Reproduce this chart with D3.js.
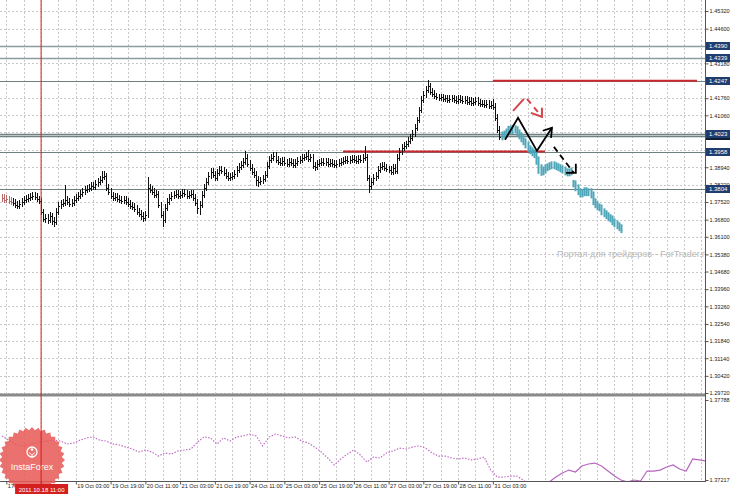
<!DOCTYPE html>
<html>
<head>
<meta charset="utf-8">
<script src="https://cdn.jsdelivr.net/npm/d3@7"></script>
<style>
body { margin: 0; background: #fff; }
svg { display: block; font-family: "Liberation Sans", Arial, sans-serif; }
</style>
</head>
<body>
<svg id="chart" width="730" height="494"></svg>
<script>
"use strict";

// H1 bars, index 0 = 17 Oct 15:00; open of a bar = close of the one before
var closes = [
    1.3769,1.3761,1.3765,1.3757,1.3753,1.3749,1.3741,1.3737,1.3745,1.3753,
    1.3761,1.3765,1.3769,1.3773,1.3777,1.3773,1.3765,1.3757,1.3712,1.3683,
    1.3688,1.3679,1.3696,1.3675,1.3671,1.3712,1.3737,1.3745,1.3749,1.3761,
    1.3753,1.3745,1.3749,1.3761,1.3769,1.3777,1.3785,1.3794,1.3802,1.3806,
    1.3810,1.3818,1.3814,1.3826,1.3834,1.3843,1.3855,1.3859,1.3810,1.3794,
    1.3777,1.3769,1.3773,1.3765,1.3761,1.3757,1.3761,1.3753,1.3745,1.3737,
    1.3732,1.3724,1.3712,1.3704,1.3696,1.3688,1.3700,1.3810,1.3802,1.3794,
    1.3781,1.3785,1.3741,1.3700,1.3679,1.3728,1.3753,1.3769,1.3777,1.3781,
    1.3785,1.3777,1.3781,1.3790,1.3785,1.3777,1.3781,1.3785,1.3769,1.3749,
    1.3728,1.3741,1.3781,1.3810,1.3834,1.3859,1.3875,1.3863,1.3851,1.3871,
    1.3883,1.3879,1.3871,1.3859,1.3851,1.3855,1.3859,1.3867,1.3883,1.3896,
    1.3904,1.3916,1.3932,1.3908,1.3892,1.3875,1.3863,1.3843,1.3834,1.3839,
    1.3847,1.3863,1.3900,1.3924,1.3932,1.3941,1.3924,1.3916,1.3912,1.3920,
    1.3912,1.3908,1.3916,1.3912,1.3904,1.3912,1.3920,1.3924,1.3932,1.3936,
    1.3941,1.3928,1.3936,1.3900,1.3896,1.3908,1.3912,1.3916,1.3912,1.3916,
    1.3908,1.3912,1.3908,1.3904,1.3908,1.3912,1.3916,1.3920,1.3924,1.3920,
    1.3924,1.3928,1.3924,1.3920,1.3928,1.3924,1.3932,1.3936,1.3851,1.3818,
    1.3834,1.3851,1.3859,1.3883,1.3896,1.3900,1.3892,1.3887,1.3883,1.3875,
    1.3892,1.3879,1.3932,1.3957,1.3973,1.3981,1.3989,1.4002,1.4014,1.4030,
    1.4055,1.4087,1.4128,1.4169,1.4189,1.4210,1.4226,1.4202,1.4194,1.4185,
    1.4181,1.4177,1.4181,1.4173,1.4177,1.4169,1.4173,1.4177,1.4169,1.4165,
    1.4173,1.4169,1.4165,1.4169,1.4161,1.4165,1.4157,1.4161,1.4165,1.4157,
    1.4153,1.4153,1.4149,1.4153,1.4145,1.4149,1.4141,1.4096,1.4047,1.4018,
    1.4026,1.4030,1.4038,1.4047,1.4043,1.4051,1.4047,1.4034,1.4022,1.4010,
    1.3998,1.3985,1.3969,1.3961,1.3953,1.3945,1.3924,1.3892,1.3875,1.3883,
    1.3892,1.3896,1.3900,1.3904,1.3900,1.3896,1.3892,1.3887,1.3883,1.3875,
    1.3871,1.3875,1.3879,1.3826,1.3810,1.3794,1.3785,1.3790,1.3798,1.3790,
    1.3794,1.3781,1.3753,1.3741,1.3732,1.3728,1.3712,1.3704,1.3696,1.3688,
    1.3683,1.3671,1.3663,1.3655,1.3647,1.3639
];
var highs = [
    1.3785,1.3783,1.3779,1.3777,1.3771,1.3767,1.3763,1.3755,1.3759,1.3767,
    1.3775,1.3779,1.3785,1.3789,1.3793,1.3791,1.3787,1.3777,1.3769,1.3724,
    1.3704,1.3702,1.3710,1.3708,1.3689,1.3726,1.3751,1.3759,1.3765,1.3822,
    1.3775,1.3767,1.3763,1.3775,1.3783,1.3791,1.3799,1.3808,1.3816,1.3822,
    1.3826,1.3832,1.3834,1.3840,1.3850,1.3857,1.3879,1.3879,1.3871,1.3824,
    1.3808,1.3791,1.3787,1.3787,1.3779,1.3775,1.3775,1.3775,1.3767,1.3759,
    1.3751,1.3746,1.3738,1.3726,1.3718,1.3710,1.3714,1.3855,1.3826,1.3816,
    1.3808,1.3799,1.3797,1.3753,1.3714,1.3742,1.3767,1.3783,1.3791,1.3795,
    1.3799,1.3799,1.3795,1.3804,1.3804,1.3799,1.3795,1.3799,1.3799,1.3783,
    1.3763,1.3755,1.3795,1.3824,1.3848,1.3873,1.3891,1.3889,1.3877,1.3885,
    1.3897,1.3897,1.3893,1.3885,1.3873,1.3869,1.3873,1.3881,1.3897,1.3910,
    1.3918,1.3930,1.3961,1.3946,1.3922,1.3906,1.3889,1.3877,1.3857,1.3853,
    1.3861,1.3877,1.3914,1.3938,1.3948,1.3955,1.3955,1.3938,1.3930,1.3934,
    1.3934,1.3926,1.3930,1.3930,1.3926,1.3926,1.3934,1.3938,1.3946,1.3950,
    1.3955,1.3965,1.3950,1.3948,1.3914,1.3922,1.3926,1.3930,1.3930,1.3930,
    1.3930,1.3926,1.3926,1.3922,1.3922,1.3926,1.3930,1.3934,1.3938,1.3938,
    1.3938,1.3942,1.3942,1.3938,1.3942,1.3942,1.3946,1.3981,1.3948,1.3863,
    1.3848,1.3865,1.3873,1.3897,1.3910,1.3914,1.3914,1.3906,1.3901,1.3897,
    1.3906,1.3906,1.3946,1.3971,1.3987,1.3995,1.4003,1.4016,1.4028,1.4044,
    1.4069,1.4101,1.4142,1.4183,1.4205,1.4226,1.4250,1.4240,1.4216,1.4208,
    1.4199,1.4195,1.4195,1.4195,1.4191,1.4191,1.4187,1.4191,1.4191,1.4183,
    1.4187,1.4187,1.4183,1.4183,1.4183,1.4179,1.4179,1.4175,1.4179,1.4179,
    1.4171,1.4167,1.4167,1.4167,1.4167,1.4163,1.4173,1.4155,1.4110,1.4061,
    1.4040,1.4044,1.4052,1.4063,1.4063,1.4067,1.4065,1.4061,1.4048,1.4036,
    1.4024,1.4012,1.3999,1.3983,1.3975,1.3967,1.3959,1.3938,1.3906,1.3897,
    1.3906,1.3910,1.3914,1.3918,1.3918,1.3914,1.3910,1.3906,1.3901,1.3897,
    1.3889,1.3889,1.3893,1.3842,1.3840,1.3824,1.3808,1.3804,1.3812,1.3812,
    1.3808,1.3808,1.3795,1.3767,1.3755,1.3746,1.3742,1.3726,1.3718,1.3710,
    1.3702,1.3697,1.3685,1.3677,1.3669,1.3661
];
var lows = [
    1.3751,1.3747,1.3747,1.3743,1.3739,1.3735,1.3727,1.3723,1.3723,1.3733,
    1.3741,1.3747,1.3753,1.3757,1.3761,1.3759,1.3751,1.3743,1.3698,1.3669,
    1.3667,1.3663,1.3665,1.3659,1.3651,1.3659,1.3698,1.3723,1.3731,1.3735,
    1.3739,1.3731,1.3731,1.3735,1.3747,1.3755,1.3763,1.3771,1.3780,1.3788,
    1.3792,1.3796,1.3800,1.3800,1.3812,1.3820,1.3829,1.3841,1.3796,1.3780,
    1.3763,1.3755,1.3755,1.3751,1.3747,1.3743,1.3743,1.3739,1.3731,1.3723,
    1.3718,1.3710,1.3698,1.3690,1.3680,1.3672,1.3674,1.3686,1.3788,1.3780,
    1.3767,1.3767,1.3727,1.3686,1.3651,1.3665,1.3714,1.3739,1.3755,1.3763,
    1.3767,1.3763,1.3763,1.3767,1.3771,1.3763,1.3763,1.3767,1.3755,1.3735,
    1.3704,1.3700,1.3727,1.3767,1.3796,1.3820,1.3845,1.3849,1.3837,1.3837,
    1.3857,1.3865,1.3857,1.3845,1.3837,1.3837,1.3841,1.3845,1.3853,1.3869,
    1.3882,1.3890,1.3902,1.3894,1.3878,1.3861,1.3849,1.3818,1.3814,1.3820,
    1.3825,1.3833,1.3849,1.3886,1.3910,1.3918,1.3910,1.3902,1.3898,1.3898,
    1.3898,1.3894,1.3894,1.3898,1.3890,1.3890,1.3898,1.3906,1.3910,1.3918,
    1.3922,1.3914,1.3914,1.3886,1.3880,1.3882,1.3894,1.3898,1.3898,1.3898,
    1.3894,1.3894,1.3894,1.3890,1.3890,1.3894,1.3898,1.3902,1.3906,1.3906,
    1.3906,1.3910,1.3910,1.3906,1.3906,1.3910,1.3910,1.3918,1.3837,1.3790,
    1.3802,1.3820,1.3837,1.3845,1.3869,1.3882,1.3878,1.3873,1.3869,1.3861,
    1.3861,1.3865,1.3865,1.3918,1.3943,1.3959,1.3967,1.3975,1.3988,1.4000,
    1.4016,1.4041,1.4073,1.4114,1.4155,1.4175,1.4196,1.4188,1.4180,1.4171,
    1.4167,1.4163,1.4163,1.4159,1.4159,1.4155,1.4155,1.4159,1.4155,1.4151,
    1.4151,1.4155,1.4151,1.4151,1.4147,1.4147,1.4143,1.4143,1.4147,1.4143,
    1.4139,1.4139,1.4135,1.4135,1.4131,1.4131,1.4127,1.4082,1.4033,1.4004,
    1.4004,1.4012,1.4016,1.4024,1.4029,1.4029,1.4033,1.4020,1.4008,1.3996,
    1.3984,1.3971,1.3955,1.3947,1.3939,1.3931,1.3904,1.3867,1.3859,1.3861,
    1.3869,1.3878,1.3882,1.3886,1.3886,1.3882,1.3878,1.3873,1.3869,1.3861,
    1.3857,1.3857,1.3861,1.3812,1.3796,1.3780,1.3771,1.3771,1.3776,1.3776,
    1.3776,1.3767,1.3739,1.3727,1.3718,1.3714,1.3698,1.3690,1.3682,1.3674,
    1.3669,1.3657,1.3649,1.3641,1.3633,1.3625
];
var firstBlueBar = 230;
var lastBar = 324;

var priceTicks = ["1.29720","1.30420","1.31140","1.31840","1.32540","1.33260","1.33960",
    "1.34680","1.35380","1.36100","1.36800","1.37520","1.38220","1.38940","1.39640",
    "1.40360","1.41060","1.41760","1.42480","1.43180","1.43880","1.44600","1.45320"];

var dateBars = [2, 18, 34, 50, 66, 82, 98, 114, 130, 146, 162, 178, 194, 210, 226];
var dateTexts = ["17 Oct 19:00","18 Oct 11:00","19 Oct 03:00","19 Oct 19:00","20 Oct 11:00",
    "21 Oct 03:00","21 Oct 19:00","24 Oct 11:00","25 Oct 03:00","25 Oct 19:00","26 Oct 11:00",
    "27 Oct 03:00","27 Oct 19:00","28 Oct 11:00","31 Oct 03:00"];
var cursorBar = 18;
var cursorText = "2011.10.18 11:00";

var levels = [1.4390, 1.4339, 1.4247, 1.4020, 1.4028, 1.3958, 1.3804];
var levelTexts = ["1.4390", "1.4339", "1.4247", "1.4020", "1.4023", "1.3958", "1.3804"];

// [fromBar, toBar, price]
var redLevels = [[226, 320, 1.4247], [157, 250, 1.3958]];

// scenario marks, [bar, price]
var blackPath = [[231.6, 1.4006], [237.6, 1.4096], [246.3, 1.3961], [253.2, 1.4055]];
var blackHead = [[249.0, 1.4043], [253.2, 1.4055], [252.8, 1.4014]];
var blackDash = [[254.1, 1.3977], [263.3, 1.3871]];
var blackDashHead = [[259.7, 1.3871], [264.2, 1.3871], [264.2, 1.3908]];
var redPath = [[235.3, 1.4124], [240.3, 1.4173]];
var redDash = [[241.7, 1.4173], [248.6, 1.4100]];
var redDashHead = [[243.5, 1.4116], [248.6, 1.4100], [248.6, 1.4137]];

// lower window line, one value every 3 bars
var osc = [
    1.37531,1.37502,1.37474,1.37460,1.37467,1.37481,1.37488,1.37495,1.37502,1.37495,
    1.37474,1.37481,1.37502,1.37517,1.37524,1.37502,1.37495,1.37474,1.37467,1.37452,
    1.37438,1.37417,1.37431,1.37417,1.37388,1.37410,1.37402,1.37424,1.37431,1.37438,
    1.37488,1.37524,1.37517,1.37474,1.37517,1.37495,1.37524,1.37531,1.37545,1.37531,
    1.37460,1.37524,1.37545,1.37531,1.37517,1.37524,1.37495,1.37481,1.37452,1.37417,
    1.37374,1.37324,1.37367,1.37402,1.37431,1.37395,1.37345,1.37381,1.37374,1.37410,
    1.37424,1.37445,1.37438,1.37452,1.37460,1.37445,1.37410,1.37388,1.37388,1.37374,
    1.37367,1.37374,1.37360,1.37367,1.37381,1.37288,1.37238,1.37238,1.37245,1.37245,
    1.37217,1.37174,1.37160,1.37174,1.37203,1.37238,1.37267,1.37288,1.37274,1.37317,
    1.37331,1.37338,1.37317,1.37281,1.37245,1.37217,1.37203,1.37217,1.37210,1.37281,
    1.37281,1.37288,1.37310,1.37324,1.37295,1.37281,1.37367,1.37360,1.37352
];
var oscStep = 3;
var oscSolidFrom = 81;
var oscMax = 1.37788, oscMin = 1.37217;

var svg = d3.select("#chart");
var x = d3.scaleLinear().domain([0, lastBar]).range([2, 705.7]);
var y = d3.scaleLinear().domain([1.2972, 1.4532]).range([393, 11]);
var yo = d3.scaleLinear().domain([oscMin, oscMax]).range([480, 400]);
var px = function (i) { return Math.round(x(i)) + 0.5; };

svg.append("rect").attr("width", 730).attr("height", 494).attr("fill", "#fff");

var defs = svg.append("defs");
defs.append("clipPath").attr("id", "clipMain")
    .append("rect").attr("x", 0).attr("y", 0).attr("width", 705).attr("height", 393);
defs.append("clipPath").attr("id", "clipOsc")
    .append("rect").attr("x", 0).attr("y", 397).attr("width", 705).attr("height", 84);

// grid
var grid = svg.append("g").attr("stroke", "#c9c9c9").attr("stroke-dasharray", "2,2")
    .attr("shape-rendering", "crispEdges");
d3.range(2, lastBar, 8).forEach(function (b) {
    grid.append("line").attr("x1", px(b)).attr("x2", px(b)).attr("y1", 0).attr("y2", 393);
    grid.append("line").attr("x1", px(b)).attr("x2", px(b)).attr("y1", 398).attr("y2", 481);
});
priceTicks.forEach(function (t) {
    var yy = Math.round(y(+t)) + 0.5;
    grid.append("line").attr("x1", 0).attr("x2", 705).attr("y1", yy).attr("y2", yy);
});

var main = svg.append("g").attr("clip-path", "url(#clipMain)");

// horizontal levels
main.selectAll(".level").data(levels).enter().append("line")
    .attr("x1", 0).attr("x2", 705)
    .attr("y1", function (d) { return Math.round(y(d)) + 0.5; })
    .attr("y2", function (d) { return Math.round(y(d)) + 0.5; })
    .attr("stroke", function (d, i) { return i < 2 ? "#8d9d9f" : "#6e8080"; })
    .attr("stroke-width", function (d, i) { return i < 2 || i === 3 || i === 4 ? 1.6 : 1; });

main.selectAll(".redlevel").data(redLevels).enter().append("line")
    .attr("x1", function (d) { return x(d[0]); })
    .attr("x2", function (d) { return x(d[1]); })
    .attr("y1", function (d) { return y(d[2]); })
    .attr("y2", function (d) { return y(d[2]); })
    .attr("stroke", "#c8282e").attr("stroke-width", 2);

// bars
var bars = closes.map(function (c, i) {
    return { i: i, o: i > 0 ? closes[i - 1] : c, h: highs[i], l: lows[i], c: c };
});
var blackBars = bars.filter(function (d) { return d.i < firstBlueBar; });
var blueBars = bars.filter(function (d) { return d.i >= firstBlueBar; });

var bg = main.append("g").attr("stroke-width", 1).attr("shape-rendering", "crispEdges");
bg.selectAll("path").data(blackBars).enter().append("path")
    .attr("stroke", function (d) { return d.i < 5 ? "#b86a6a" : "#111"; })
    .attr("d", function (d) {
        var xx = px(d.i);
        var yh = Math.round(y(d.h)), yl = Math.round(y(d.l));
        if (yl - yh < 1) yl = yh + 1;
        var yO = Math.round(y(d.o)) + 0.5, yC = Math.round(y(d.c)) + 0.5;
        return "M" + xx + "," + yh + "V" + yl +
            "M" + (xx - 1) + "," + yO + "H" + xx +
            "M" + xx + "," + yC + "H" + (xx + 1);
    });

main.append("g").selectAll("rect").data(blueBars).enter().append("rect")
    .attr("x", function (d) { return Math.round(x(d.i)) - 0.5; })
    .attr("width", 2)
    .attr("y", function (d) { return y(d.h); })
    .attr("height", function (d) { return Math.max(1, y(d.l) - y(d.h)); })
    .attr("fill", "#4ea6b8");

// scenario marks
var line = d3.line().x(function (d) { return x(d[0]); }).y(function (d) { return y(d[1]); });
var marks = svg.append("g").attr("fill", "none").attr("stroke-linejoin", "miter");
marks.append("path").datum(redPath).attr("d", line).attr("stroke", "#d2464b").attr("stroke-width", 2);
marks.append("path").datum(redDash).attr("d", line).attr("stroke", "#d2464b").attr("stroke-width", 2)
    .attr("stroke-dasharray", "6,5");
marks.append("path").datum(redDashHead).attr("d", line).attr("stroke", "#d2464b").attr("stroke-width", 2);
marks.append("path").datum(blackPath).attr("d", line).attr("stroke", "#000").attr("stroke-width", 1.8);
marks.append("path").datum(blackHead).attr("d", line).attr("stroke", "#000").attr("stroke-width", 1.8);
marks.append("path").datum(blackDash).attr("d", line).attr("stroke", "#000").attr("stroke-width", 1.8)
    .attr("stroke-dasharray", "6,4");
marks.append("path").datum(blackDashHead).attr("d", line).attr("stroke", "#000").attr("stroke-width", 1.8);

// watermark
svg.append("text").attr("x", 557).attr("y", 257)
    .attr("font-size", 9).attr("fill", "#b9b9b9")
    .text("Портал для трейдеров - ForTrader.ru");

// lower window
var oscPts = osc.map(function (v, k) { return [k * oscStep, v]; });
var oscLine = d3.line().x(function (d) { return x(d[0]); }).y(function (d) { return yo(d[1]); });
var og = svg.append("g").attr("clip-path", "url(#clipOsc)").attr("fill", "none");
og.append("path").datum(oscPts.slice(0, oscSolidFrom + 1)).attr("d", oscLine)
    .attr("stroke", "#c270c6").attr("stroke-width", 1.2).attr("stroke-dasharray", "1.5,1.5");
og.append("path").datum(oscPts.slice(oscSolidFrom)).attr("d", oscLine)
    .attr("stroke", "#b864c0").attr("stroke-width", 1.2);

// frame
svg.append("rect").attr("x", 705).attr("y", 0).attr("width", 25).attr("height", 494).attr("fill", "#fff");
svg.append("rect").attr("x", 0).attr("y", 482).attr("width", 730).attr("height", 12).attr("fill", "#fff");
svg.append("line").attr("x1", 0).attr("x2", 705).attr("y1", 395).attr("y2", 395)
    .attr("stroke", "#8a8a8a").attr("stroke-width", 3);
svg.append("line").attr("x1", 705.5).attr("x2", 705.5).attr("y1", 0).attr("y2", 482)
    .attr("stroke", "#555").attr("shape-rendering", "crispEdges");
svg.append("line").attr("x1", 0).attr("x2", 706).attr("y1", 481.5).attr("y2", 481.5)
    .attr("stroke", "#555").attr("shape-rendering", "crispEdges");

// price axis; labels sitting right under a level tag are hidden by it
var yAxis = d3.axisRight(y).tickValues(priceTicks.map(Number))
    .tickFormat(d3.format(".5f")).tickSize(3).tickPadding(1);
var gy = svg.append("g").attr("transform", "translate(705.5,0)").call(yAxis);
gy.selectAll(".tick").filter(function (d) {
    return levels.some(function (l) { return Math.abs(y(l) - y(d)) < 2.5; });
}).select("text").remove();
var oAxis = d3.axisRight(yo).tickValues([oscMax, oscMin])
    .tickFormat(d3.format(".5f")).tickSize(3).tickPadding(1);
var go = svg.append("g").attr("transform", "translate(705.5,0)").call(oAxis);
[gy, go].forEach(function (g) {
    g.select(".domain").remove();
    g.selectAll("line").attr("stroke", "#555");
    g.selectAll("text").attr("font-size", 5.6).attr("fill", "#222")
        .attr("font-family", "Liberation Sans, Arial, sans-serif");
});

// level tags
var tags = svg.append("g").selectAll("g").data(levels).enter().append("g")
    .attr("transform", function (d) { return "translate(706," + Math.round(y(d)) + ")"; });
tags.append("rect").attr("x", 0).attr("y", -4).attr("width", 24).attr("height", 8)
    .attr("fill", function (d, i) { return i === 3 ? "#0f1d35" : "#1f3d6e"; });
tags.append("text").attr("x", 3).attr("y", 2.2).attr("font-size", 6).attr("fill", "#fff")
    .text(function (d, i) { return levelTexts[i]; });

// logo
var logo = svg.append("g").attr("transform", "translate(32,460)");
var star = d3.range(64).map(function (k) {
    return [k / 64 * 2 * Math.PI, k % 2 === 0 ? 33 : 30];
});
logo.append("path").attr("d", d3.lineRadial().curve(d3.curveLinearClosed)(star))
    .attr("fill", "#e65a56").attr("opacity", 0.86);
logo.append("circle").attr("cy", -8).attr("r", 5).attr("fill", "none")
    .attr("stroke", "#fff").attr("stroke-width", 1.3);
logo.append("circle").attr("cy", -10.5).attr("r", 1.3).attr("fill", "#fff");
logo.append("path").attr("d", "M-2.8,-7.5 L0,-4.8 L2.8,-7.5 M0,-4.8 V-2").attr("stroke", "#fff").attr("fill", "none");
logo.append("text").attr("y", 10).attr("text-anchor", "middle").attr("font-size", 9)
    .attr("fill", "#fff").text("InstaForex");

// cursor line
svg.append("line").attr("x1", x(cursorBar)).attr("x2", x(cursorBar)).attr("y1", 0).attr("y2", 484)
    .attr("stroke", "#d81e1e").attr("stroke-width", 1);

// time axis; the label under the cursor is replaced by the cursor tag
var xAxis = d3.axisBottom(x).tickValues(dateBars)
    .tickFormat(function (d, i) { return dateTexts[i]; }).tickSize(3).tickPadding(1);
var gx = svg.append("g").attr("transform", "translate(0,481.5)").call(xAxis);
gx.select(".domain").remove();
gx.selectAll(".tick").filter(function (d) { return d === cursorBar; }).select("text").remove();
gx.selectAll("line").attr("stroke", "#555");
gx.selectAll("text").attr("font-size", 5.6).attr("fill", "#222").attr("text-anchor", "start")
    .attr("dx", 1).attr("dy", "0.5em").attr("font-family", "Liberation Sans, Arial, sans-serif");

var cx = x(cursorBar);
svg.append("rect").attr("x", cx - 26).attr("y", 484).attr("width", 53).attr("height", 10)
    .attr("fill", "#d41f1f");
svg.append("text").attr("x", cx + 0.5).attr("y", 491.5).attr("text-anchor", "middle")
    .attr("font-size", 6).attr("fill", "#fff").text(cursorText);
</script>
</body>
</html>
